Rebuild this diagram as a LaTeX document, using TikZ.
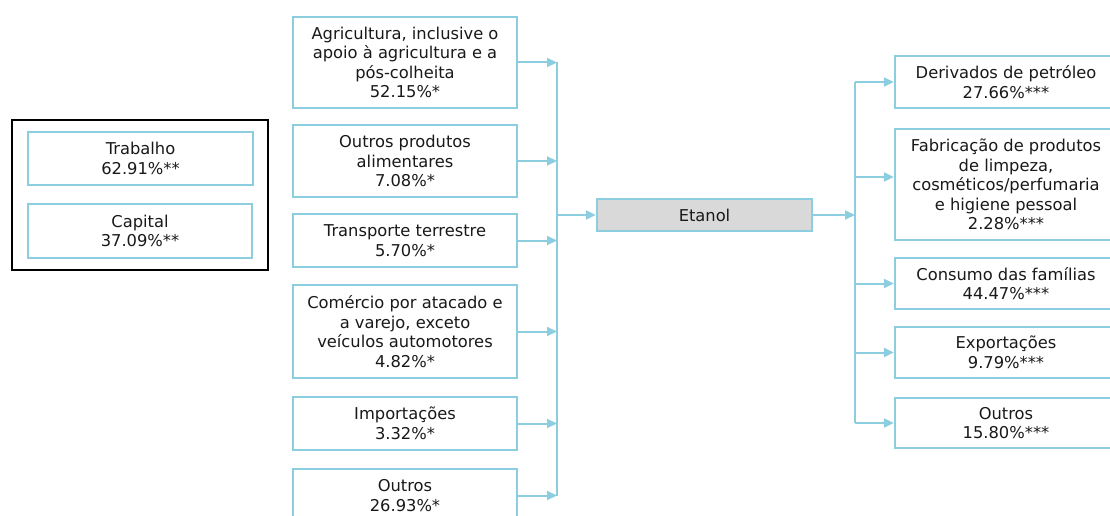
\documentclass[tikz,border=0pt]{standalone}
\usepackage{fontspec}
\setmainfont{DejaVu Sans}
\usetikzlibrary{arrows.meta}
\definecolor{flowblue}{RGB}{140,205,223}
\definecolor{inkgray}{RGB}{25,25,25}
\definecolor{hubfill}{RGB}{217,217,217}
\begin{document}
\begin{tikzpicture}[x=1pt,y=-1pt,
  every node/.style={font=\fontsize{16.3}{19.5}\selectfont, text=inkgray, align=center, inner sep=0pt},
  flowbox/.style={draw=flowblue, line width=2.3pt, fill=white},
  hubbox/.style={draw=flowblue, line width=2.3pt, fill=hubfill},
  groupbox/.style={draw=black, line width=2.2pt},
  link/.style={draw=flowblue, line width=2pt},
  arrowlink/.style={link, -{Triangle[length=10pt,width=9pt]}}]
\useasboundingbox (0,0) rectangle (1110,516);

% factors of production
\node[groupbox, minimum width=256pt, minimum height=150pt] (fac) at (140,195) {};
\node[flowbox, minimum width=225pt, minimum height=53pt] (trab) at (140.5,158.5) {Trabalho\\62.91\%**};
\node[flowbox, minimum width=224pt, minimum height=54pt] (cap) at (140,231) {Capital\\37.09\%**};

% inputs
\node[flowbox, minimum width=224pt, minimum height=91pt] (agr) at (405,62.5) {Agricultura, inclusive o\\apoio à agricultura e a\\pós-colheita\\52.15\%*};
\node[flowbox, minimum width=224pt, minimum height=72pt] (alim) at (405,161) {Outros produtos\\alimentares\\7.08\%*};
\node[flowbox, minimum width=224pt, minimum height=53pt] (transp) at (405,240.5) {Transporte terrestre\\5.70\%*};
\node[flowbox, minimum width=224pt, minimum height=93pt] (com) at (405,331.5) {Comércio por atacado e\\a varejo, exceto\\veículos automotores\\4.82\%*};
\node[flowbox, minimum width=224pt, minimum height=53pt] (imp) at (405,423.5) {Importações\\3.32\%*};
\node[flowbox, minimum width=224pt, minimum height=53pt] (outin) at (405,495.5) {Outros\\26.93\%*};

% product
\node[hubbox, minimum width=215pt, minimum height=32pt] (eta) at (704.5,215) {Etanol};

% destinations
\node[flowbox, minimum width=222pt, minimum height=52pt] (der) at (1006,82) {Derivados de petróleo\\27.66\%***};
\node[flowbox, minimum width=222pt, minimum height=111pt] (fab) at (1006,184.5) {Fabricação de produtos\\de limpeza,\\cosméticos/perfumaria\\e higiene pessoal\\2.28\%***};
\node[flowbox, minimum width=222pt, minimum height=51pt] (cons) at (1006,283.5) {Consumo das famílias\\44.47\%***};
\node[flowbox, minimum width=222pt, minimum height=51pt] (exp) at (1006,352.5) {Exportações\\9.79\%***};
\node[flowbox, minimum width=222pt, minimum height=50pt] (outout) at (1006,423) {Outros\\15.80\%***};

% collector bars
\coordinate (busin) at (557,0);
\coordinate (busout) at (855,0);
\coordinate (fabin) at ([yshift=7.5pt]fab.west);

\foreach \n in {agr,alim,transp,com,imp,outin}
  \draw[arrowlink] (\n.east) -- (busin |- \n.east);
\draw[link] (busin |- agr.east) -- (busin |- outin.east);
\draw[arrowlink] (busin |- eta.west) -- (eta.west);

\draw[arrowlink] (eta.east) -- (busout |- eta.east);
\draw[link] (busout |- der.west) -- (busout |- outout.west);
\foreach \n in {der,cons,exp,outout}
  \draw[arrowlink] (busout |- \n.west) -- (\n.west);
\draw[arrowlink] (busout |- fabin) -- (fabin);
\end{tikzpicture}
\end{document}
